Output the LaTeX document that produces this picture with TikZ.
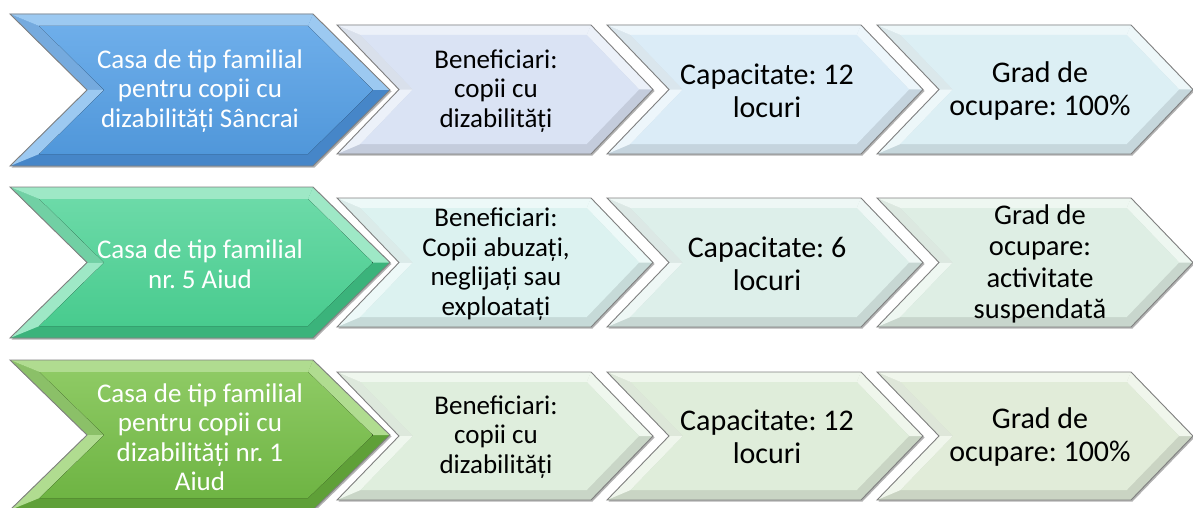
\documentclass[tikz,border=0pt]{standalone}
\usepackage{fontspec}
\setmainfont{Carlito}
\usetikzlibrary{calc}

\definecolor{blueTop}{HTML}{6EAEEA}
\definecolor{blueBot}{HTML}{5097DA}
\definecolor{blueLight}{HTML}{9CC9F1}
\definecolor{blueDark}{HTML}{4686C8}
\definecolor{tealTop}{HTML}{6CDAA8}
\definecolor{tealBot}{HTML}{48CB8E}
\definecolor{tealLight}{HTML}{9EE8C6}
\definecolor{tealDark}{HTML}{3BB37B}
\definecolor{grnTop}{HTML}{8ECA64}
\definecolor{grnBot}{HTML}{6EB443}
\definecolor{grnLight}{HTML}{B0DC90}
\definecolor{grnDark}{HTML}{5FA038}

\definecolor{lavA}{HTML}{DAE3F4}
\definecolor{lavB}{HTML}{DBECF7}
\definecolor{lavC}{HTML}{DCEFF4}
\definecolor{aquA}{HTML}{DCF2F0}
\definecolor{aquB}{HTML}{DDEFEA}
\definecolor{aquC}{HTML}{DEEEE4}
\definecolor{lgA}{HTML}{DFEEDD}
\definecolor{lgB}{HTML}{DFEDDA}
\definecolor{lgC}{HTML}{E1ECD9}

% #1 x0, #2 ytop, #3 width, #4 height, #5 depth, #6 bevel, #7 face opts, #8 light, #9 dark
\newcommand\chev[9]{%
  \begingroup
  \pgfmathsetmacro\chHH{#4/2}%
  \pgfmathsetmacro\chYB{#2+#4}%
  \pgfmathsetmacro\chYM{#2+#4/2}%
  \pgfmathsetmacro\chS{#6*sqrt(#5*#5+\chHH*\chHH)/\chHH}%
  \pgfmathsetmacro\chT{#5*#6/\chHH}%
  \pgfmathsetmacro\chXR{#1+#3-#5}%
  \pgfmathsetmacro\chXT{#1+#3}%
  \pgfmathsetmacro\chXN{#1+#5}%
  \pgfmathsetmacro\chIL{#1+\chS+\chT}%
  \pgfmathsetmacro\chIN{#1+#5+\chS}%
  \pgfmathsetmacro\chIR{\chXR-\chS+\chT}%
  \pgfmathsetmacro\chIT{\chXT-\chS}%
  \pgfmathsetmacro\chIYT{#2+#6}%
  \pgfmathsetmacro\chIYB{#2+#4-#6}%
  \coordinate (O1) at (#1,#2);
  \coordinate (O2) at (\chXR,#2);
  \coordinate (O3) at (\chXT,\chYM);
  \coordinate (O4) at (\chXR,\chYB);
  \coordinate (O5) at (#1,\chYB);
  \coordinate (O6) at (\chXN,\chYM);
  \coordinate (I1) at (\chIL,\chIYT);
  \coordinate (I2) at (\chIR,\chIYT);
  \coordinate (I3) at (\chIT,\chYM);
  \coordinate (I4) at (\chIR,\chIYB);
  \coordinate (I5) at (\chIL,\chIYB);
  \coordinate (I6) at (\chIN,\chYM);
  \fill[black!30] ($(O1)+(1.5,1.5)$)--($(O2)+(1.5,1.5)$)--($(O3)+(1.5,1.5)$)--($(O4)+(1.5,1.5)$)--($(O5)+(1.5,1.5)$)--($(O6)+(1.5,1.5)$)--cycle;
  \fill[#9] (O1)--(O2)--(O3)--(O4)--(O5)--(O6)--cycle;
  \fill[#8] (O1)--(O2)--(I2)--(I1)--cycle;
  \fill[#8] (O2)--(O3)--(I3)--(I2)--cycle;
  \fill[#8] (O5)--(O6)--(I6)--(I5)--cycle;
  \fill[#8,opacity=0.55] (O6)--(O1)--(I1)--(I6)--cycle;
  \fill[#7] (I1)--(I2)--(I3)--(I4)--(I5)--(I6)--cycle;
  \draw[black!50,line width=0.9pt,line join=miter] (O1)--(O2)--(O3)--(O4)--(O5)--(O6)--cycle;
  \endgroup
}

\tikzset{
  maintext/.style={text=white,align=center,font=\fontsize{27}{29.5}\selectfont\frenchspacing,inner sep=0pt},
  subtext/.style={text=black,align=center,font=\fontsize{27}{29.5}\selectfont\frenchspacing,inner sep=0pt},
  bigtext/.style={text=black,align=center,font=\fontsize{30}{33}\selectfont\frenchspacing,inner sep=0pt},
  midtext/.style={text=black,align=center,font=\fontsize{28.5}{31.5}\selectfont\frenchspacing,inner sep=0pt},
}

\begin{document}
\begin{tikzpicture}[x=1pt,y=-1pt]
\useasboundingbox (0,0) rectangle (1193,508);

% ---------- row 1 ----------
\chev{10}{14}{380}{152}{77}{12}{top color=blueTop,bottom color=blueBot}{blueLight}{blueDark}
\chev{337}{25}{316}{129}{62}{10}{lavA}{lavA!50!white}{lavA!90!black}
\chev{607}{25}{316}{129}{62}{10}{lavB}{lavB!50!white}{lavB!90!black}
\chev{877}{25}{316}{129}{62}{10}{lavC}{lavC!50!white}{lavC!90!black}
\node[maintext] (m1) at (200,91) {Casa de tip familial\\pentru copii cu\\dizabilități Sâncrai};
\node[subtext] (b1) at (496,91) {Beneficiari:\\copii cu\\dizabilități};
\node[bigtext] (c1) at (767,91) {Capacitate: 12\\locuri};
\node[bigtext] (g1) at (1040,91) {Grad de\\ocupare: 100\%};

% ---------- row 2 ----------
\chev{10}{187}{380}{151}{77}{12}{top color=tealTop,bottom color=tealBot}{tealLight}{tealDark}
\chev{337}{198}{316}{129}{62}{10}{aquA}{aquA!50!white}{aquA!90!black}
\chev{607}{198}{316}{129}{62}{10}{aquB}{aquB!50!white}{aquB!90!black}
\chev{877}{198}{316}{129}{62}{10}{aquC}{aquC!50!white}{aquC!90!black}
\node[maintext] (m2) at (200,264) {Casa de tip familial\\nr. 5 Aiud};
\node[subtext] (b2) at (496,264) {Beneficiari:\\Copii abuzați,\\neglijați sau\\exploatați};
\node[bigtext] (c2) at (767,264) {Capacitate: 6\\locuri};
\node[midtext] (g2) at (1040,264) {Grad de\\ocupare:\\activitate\\suspendată};

% ---------- row 3 ----------
\chev{10}{360}{380}{150}{77}{12}{top color=grnTop,bottom color=grnBot}{grnLight}{grnDark}
\chev{337}{372}{316}{128}{62}{10}{lgA}{lgA!50!white}{lgA!90!black}
\chev{607}{372}{316}{128}{62}{10}{lgB}{lgB!50!white}{lgB!90!black}
\chev{877}{372}{316}{128}{62}{10}{lgC}{lgC!50!white}{lgC!90!black}
\node[maintext] (m3) at (200,437) {Casa de tip familial\\pentru copii cu\\dizabilități nr. 1\\Aiud};
\node[subtext] (b3) at (496,437) {Beneficiari:\\copii cu\\dizabilități};
\node[bigtext] (c3) at (767,437) {Capacitate: 12\\locuri};
\node[bigtext] (g3) at (1040,437) {Grad de\\ocupare: 100\%};
\end{tikzpicture}
\end{document}
